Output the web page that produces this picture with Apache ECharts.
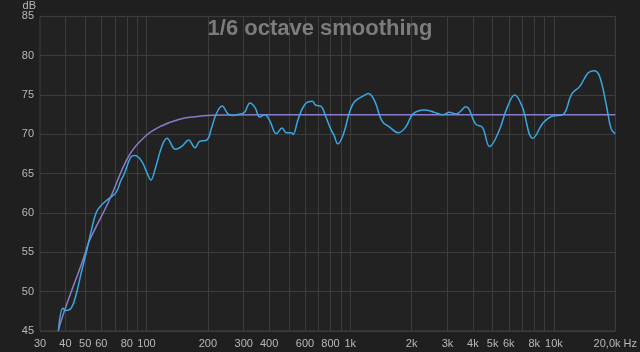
<!DOCTYPE html>
<html>
<head>
<meta charset="utf-8">
<script src="https://cdn.jsdelivr.net/npm/echarts@6/dist/echarts.min.js"></script>
<style>html,body{margin:0;padding:0;background:#1f1f1f;}#c{width:640px;height:352px;}</style>
</head>
<body>
<div id="c"></div>
<script>
// Measured response (1/6 octave smoothing): frequency (Hz) and level (dB)
const measFreq = [37,38.9,40.2,42.7,45.3,47.7,50.6,53.6,56.7,59.9,64.4,70.8,74.8,77.8,83.7,87.6,94.6,100.9,105,110.8,119,126,138.7,149.6,160.8,173,182,198,209,220,235,251,265,288,303,322,341,360,381,403,434,463,486,514,524,553,598,652,677,717,757,801,832,870,925,997,1054,1160,1227,1320,1432,1565,1720,1868,2034,2317,2592,2847,3064,3304,3694,4131,4455,4833,5365,5892,6415,6968,7883,8876,9751,11100,12200,13390,14690,15710,16740,18050,19080,20000];
const measDb = [45.2,47.9,47.6,47.9,49.8,52.3,55.0,57.8,60.1,61.0,61.7,62.6,64.1,65.0,67.1,67.3,66.6,65.0,64.2,65.8,68.5,69.5,68.1,68.5,69.3,68.3,69.1,69.3,70.9,72.6,73.6,72.6,72.4,72.6,72.8,74.0,73.4,72.2,72.5,71.7,70.1,70.8,70.2,70.2,70.0,71.8,73.8,74.2,73.7,73.6,72.3,70.7,69.9,68.8,70.0,73.0,74.2,74.9,75.2,74.2,71.7,70.9,70.2,70.9,72.6,73.1,72.8,72.5,72.8,72.6,73.5,71.3,70.9,68.45,70.4,73.4,75.0,73.6,69.5,71.5,72.3,72.55,75.1,76.1,77.8,78.1,77.4,73.8,70.7,70.1];
// Target curve
const targetFreq = [36.8,39.7,48.7,52.5,65.6,82,99,119,144,173,209,251,350,500,1000,20000];
const targetDb = [45,47.7,54,56.5,61.6,67.3,69.8,71.1,71.9,72.25,72.43,72.47,72.5,72.5,72.5,72.5];
// Axis ticks
const gridFreqs = [40,50,60,70,80,90,100,200,300,400,500,600,700,800,900,1000,2000,3000,4000,5000,6000,7000,8000,9000,10000,20000];
const labelFreqs = [30,40,50,60,80,100,200,300,400,600,800,1000,2000,3000,4000,5000,6000,8000,10000,20000];
const labelTexts = ['30','40','50','60','80','100','200','300','400','600','800','1k','2k','3k','4k','5k','6k','8k','10k','20,0k Hz'];
const yTicks = [45,50,55,60,65,70,75,80,85];

const lg = Math.log10;
const chart = echarts.init(document.getElementById('c'), null, {renderer:'canvas'});
const lab = {color:'#b8b8b8', fontSize:11, fontFamily:'Liberation Sans, Arial, sans-serif'};
chart.setOption({
  backgroundColor:'#1f1f1f',
  animation:false,
  title:{text:'1/6 octave smoothing', left:'center', top:13,
    textStyle:{color:'#7c7c7c', fontSize:22, fontWeight:'bold', fontFamily:'Liberation Sans, Arial, sans-serif'}},
  grid:{left:40, right:19, top:15, bottom:21, show:true, backgroundColor:'#222222', borderColor:'#3e3e3e', borderWidth:1},
  xAxis:{type:'value', min:lg(30), max:lg(20000),
    axisLine:{show:false},
    axisTick:{show:false, customValues:gridFreqs.map(lg)},
    splitLine:{show:true, lineStyle:{color:'#3c3c3c', width:1}},
    axisLabel:Object.assign({margin:7, customValues:labelFreqs.map(lg),
      formatter:function(v){
        let best=0,bd=1e9;
        for(let i=0;i<labelFreqs.length;i++){const d=Math.abs(lg(labelFreqs[i])-v); if(d<bd){bd=d;best=i;}}
        return labelTexts[best];
      }}, lab)
  },
  yAxis:{type:'value', min:45, max:85, interval:5,
    name:'dB', nameLocation:'end', nameGap:4,
    nameTextStyle:Object.assign({align:'right', verticalAlign:'bottom', padding:[0,4,0,0]}, lab),
    axisLine:{show:false}, axisTick:{show:false},
    splitLine:{show:true, lineStyle:{color:'#3c3c3c', width:1}},
    axisLabel:Object.assign({margin:6}, lab)
  },
  series:[
    {type:'line', name:'target', data:targetFreq.map((f,i)=>[lg(f),targetDb[i]]),
      showSymbol:false, smooth:0.4, lineStyle:{color:'#8a7ccc', width:1.5}, silent:true},
    {type:'line', name:'measured', data:measFreq.map((f,i)=>[lg(f),measDb[i]]),
      showSymbol:false, smooth:0.4, lineStyle:{color:'#38a8e2', width:1.5}, silent:true}
  ]
});
</script>
</body>
</html>
